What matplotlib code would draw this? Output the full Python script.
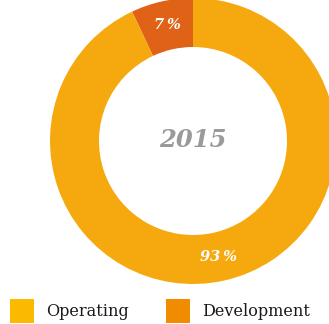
import matplotlib.pyplot as plt
from matplotlib.patches import Rectangle

# ── Data ──────────────────────────────────────────────────────────────────────
categories = ["Operating", "Development"]
shares = [93, 7]
year_label = "2015"

slice_colors = {"Operating": "#F6A90F", "Development": "#DF6217"}
legend_colors = {"Operating": "#FBBA00", "Development": "#F18B00"}

SERIF = ["DejaVu Serif"]

# ── Figure: axes in pixel units ───────────────────────────────────────────────
W, H = 329, 324
fig = plt.figure(figsize=(W / 100, H / 100), dpi=100, facecolor="white")
ax = fig.add_axes([0, 0, 1, 1])

# Development first so it sits just counter-clockwise of 12 o'clock
order = ["Development", "Operating"]
vals = [shares[categories.index(c)] for c in order]
wedges, _, autotexts = ax.pie(
    vals,
    colors=[slice_colors[c] for c in order],
    startangle=90,
    counterclock=True,
    center=(193, H - 141),
    radius=143,
    wedgeprops=dict(width=49, edgecolor="none"),
    autopct=lambda p: f"{p:.0f}\u2009%",
    pctdistance=0.83,
    frame=True,
)
ax.set_xlim(0, W)
ax.set_ylim(0, H)
ax.set_aspect("equal")
ax.axis("off")

for t in autotexts:
    t.set_color("white")
    t.set_fontfamily(SERIF)
    t.set_fontstyle("italic")
    t.set_fontweight("bold")
    t.set_fontsize(10.5)

ax.text(193, H - 140, year_label, ha="center", va="center",
        fontsize=17.5, fontweight="bold", fontstyle="italic",
        color="#9a9a9a", family=SERIF)

# ── Legend ────────────────────────────────────────────────────────────────────
for x0, cat in zip([10, 166], categories):
    ax.add_patch(Rectangle((x0, H - 323), 24, 24,
                           facecolor=legend_colors[cat], edgecolor="none"))
    ax.text(x0 + 36, H - 311, cat, ha="left", va="center",
            fontsize=11.6, color="#1a1a1a", family=SERIF)

fig.savefig("out.png", dpi=100, facecolor="white")
